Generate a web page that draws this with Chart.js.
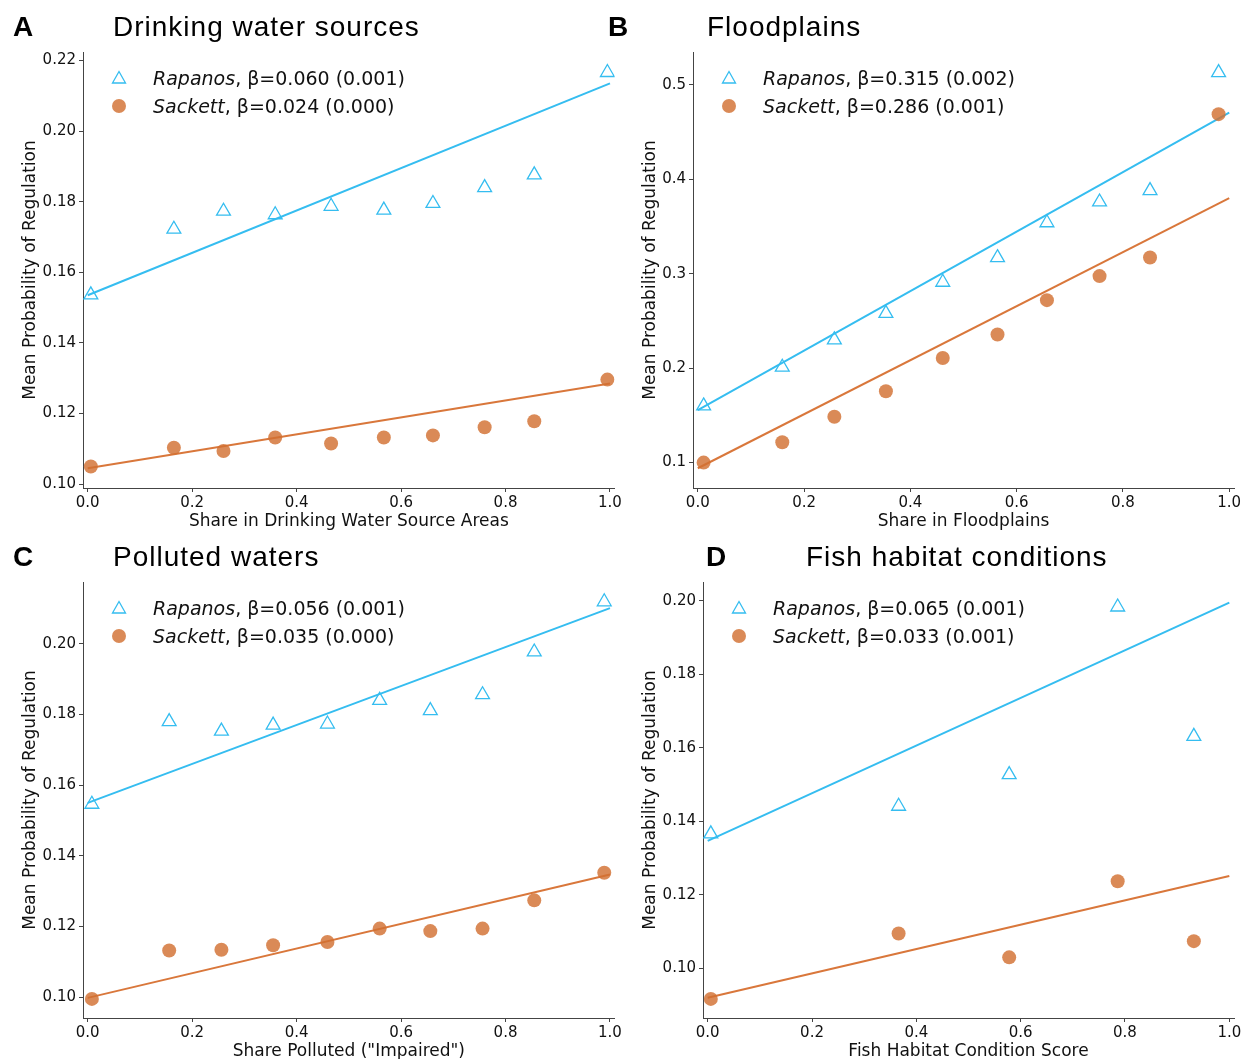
<!DOCTYPE html>
<html>
<head>
<meta charset="utf-8">
<script src="https://cdn.jsdelivr.net/npm/chart.js@4.4.1/dist/chart.umd.min.js"></script>
<style>
  html, body { margin: 0; padding: 0; background: #fff; width: 1248px; height: 1059px; overflow: hidden; }
  canvas { position: absolute; }
  .letter { position: absolute; font: bold 28px "Liberation Sans", Arial, sans-serif; line-height: 28px; color: #000; }
  .title { position: absolute; font: 28px "Liberation Sans", Arial, sans-serif; line-height: 28px; letter-spacing: 1px; white-space: nowrap; color: #000; }
  .lrow { position: absolute; height: 28px; font: 19px "DejaVu Sans", sans-serif; line-height: 28px; white-space: nowrap; color: #111; }
  .lrow svg { position: absolute; left: 0; top: 6px; }
  .lrow span.txt { position: absolute; left: 42px; top: 0; }
</style>
</head>
<body>
<script>
// shared x ticks
const xTicks = [0.0, 0.2, 0.4, 0.6, 0.8, 1.0];
const fitX = [0, 1];

// A: drinking water sources
const drinkX = [0.006, 0.165, 0.260, 0.359, 0.466, 0.567, 0.661, 0.760, 0.855, 0.995];
const drinkRapanos = [0.1536, 0.1722, 0.1773, 0.1763, 0.1787, 0.1776, 0.1795, 0.1840, 0.1876, 0.2166];
const drinkSackett = [0.1050, 0.1103, 0.1094, 0.1132, 0.1115, 0.1132, 0.1138, 0.1161, 0.1178, 0.1296];
const drinkFitRapanos = [0.1535, 0.2135];
const drinkFitSackett = [0.1045, 0.1285];
const drinkYTicks = [0.10, 0.12, 0.14, 0.16, 0.18, 0.20, 0.22];

// B: floodplains
const floodX = [0.011, 0.159, 0.257, 0.354, 0.461, 0.564, 0.657, 0.756, 0.851, 0.980];
const floodRapanos = [0.160, 0.201, 0.230, 0.258, 0.291, 0.317, 0.354, 0.376, 0.388, 0.513];
const floodSackett = [0.100, 0.1215, 0.1486, 0.1755, 0.2108, 0.2357, 0.2720, 0.2975, 0.3172, 0.469];
const floodFitRapanos = [0.1555, 0.4705];
const floodFitSackett = [0.094, 0.380];
const floodYTicks = [0.1, 0.2, 0.3, 0.4, 0.5];

// C: polluted waters
const pollX = [0.008, 0.156, 0.256, 0.355, 0.459, 0.559, 0.656, 0.756, 0.855, 0.989];
const pollRapanos = [0.1546, 0.1780, 0.1753, 0.1770, 0.1773, 0.1840, 0.1811, 0.1856, 0.1977, 0.2119];
const pollSackett = [0.0995, 0.1132, 0.1134, 0.1147, 0.1156, 0.1194, 0.1187, 0.1194, 0.1274, 0.1352];
const pollFitRapanos = [0.1550, 0.2101];
const pollFitSackett = [0.0998, 0.1347];
const pollYTicks = [0.10, 0.12, 0.14, 0.16, 0.18, 0.20];

// D: fish habitat conditions
const fishX = [0.006, 0.366, 0.578, 0.786, 0.932];
const fishRapanos = [0.1366, 0.1441, 0.1527, 0.1983, 0.1631];
const fishSackett = [0.0917, 0.1095, 0.1030, 0.1237, 0.1074];
const fishFitRapanos = [0.1347, 0.1995];
const fishFitSackett = [0.0920, 0.1251];
const fishYTicks = [0.10, 0.12, 0.14, 0.16, 0.18, 0.20];

const BLUE = '#35bdf0';
const ORANGE_LINE = '#d9773b';
const ORANGE_FILL = 'rgba(210, 112, 50, 0.82)';
const AXIS = '#444';
const TEXT = '#111';
const FONT = 'DejaVu Sans';

const panels = [
  { letter: 'A', title: 'Drinking water sources', xLabel: 'Share in Drinking Water Source Areas',
    x: drinkX, rapanos: drinkRapanos, sackett: drinkSackett, fitR: drinkFitRapanos, fitS: drinkFitSackett,
    yTicks: drinkYTicks, yMin: 0.0989, yMax: 0.2224, digits: 2,
    betaR: 'β=0.060 (0.001)', betaS: 'β=0.024 (0.000)' },
  { letter: 'B', title: 'Floodplains', xLabel: 'Share in Floodplains',
    x: floodX, rapanos: floodRapanos, sackett: floodSackett, fitR: floodFitRapanos, fitS: floodFitSackett,
    yTicks: floodYTicks, yMin: 0.0731, yMax: 0.5348, digits: 1,
    betaR: 'β=0.315 (0.002)', betaS: 'β=0.286 (0.001)' },
  { letter: 'C', title: 'Polluted waters', xLabel: 'Share Polluted ("Impaired")',
    x: pollX, rapanos: pollRapanos, sackett: pollSackett, fitR: pollFitRapanos, fitS: pollFitSackett,
    yTicks: pollYTicks, yMin: 0.0941, yMax: 0.2175, digits: 2,
    betaR: 'β=0.056 (0.001)', betaS: 'β=0.035 (0.000)' },
  { letter: 'D', title: 'Fish habitat conditions', xLabel: 'Fish Habitat Condition Score',
    x: fishX, rapanos: fishRapanos, sackett: fishSackett, fitR: fishFitRapanos, fitS: fishFitSackett,
    yTicks: fishYTicks, yMin: 0.0865, yMax: 0.2051, digits: 2,
    betaR: 'β=0.065 (0.001)', betaS: 'β=0.033 (0.001)' }
];

// where each panel sits on the page
const layouts = [
  { left: 0,   top: 40,  axisW: 83, padRight: 9,  letterX: 13,  titleX: 113, titleTop: 13,  yTitlePad: 20 },
  { left: 624, top: 40,  axisW: 69, padRight: 14, letterX: 608, titleX: 707, titleTop: 13,  yTitlePad: 16 },
  { left: 0,   top: 570, axisW: 83, padRight: 9,  letterX: 13,  titleX: 113, titleTop: 543, yTitlePad: 20 },
  { left: 624, top: 570, axisW: 79, padRight: 14, letterX: 706, titleX: 806, titleTop: 543, yTitlePad: 16 }
];
const CANVAS_W = 624, CANVAS_H = 490, PAD_TOP = 12, X_AXIS_H = 42;

function addDiv(cls, left, top, html) {
  const d = document.createElement('div');
  d.className = cls;
  d.style.left = left + 'px';
  d.style.top = top + 'px';
  d.innerHTML = html;
  document.body.appendChild(d);
  return d;
}

const triSvg = '<svg width="16" height="16" viewBox="0 0 16 16"><polygon points="8,1.5 14.5,13 1.5,13" fill="none" stroke="' + BLUE + '" stroke-width="1.3"/></svg>';
const dotSvg = '<svg width="16" height="16" viewBox="0 0 16 16"><circle cx="8" cy="8" r="7" fill="' + ORANGE_FILL + '"/></svg>';

panels.forEach((p, i) => {
  const g = layouts[i];
  addDiv('letter', g.letterX, g.titleTop, p.letter);
  addDiv('title', g.titleX, g.titleTop, p.title);

  const spineX = g.left + g.axisW;
  const spineTop = g.top + PAD_TOP;
  addDiv('lrow', spineX + 28, spineTop + 12, triSvg + '<span class="txt"><i>Rapanos</i>, ' + p.betaR + '</span>');
  addDiv('lrow', spineX + 28, spineTop + 40, dotSvg + '<span class="txt"><i>Sackett</i>, ' + p.betaS + '</span>');

  const canvas = document.createElement('canvas');
  canvas.width = CANVAS_W;
  canvas.height = CANVAS_H;
  canvas.style.left = g.left + 'px';
  canvas.style.top = g.top + 'px';
  document.body.insertBefore(canvas, document.body.firstChild);

  const pts = ys => p.x.map((v, k) => ({ x: v, y: ys[k] }));
  const fit = ys => fitX.map((v, k) => ({ x: v, y: ys[k] }));

  new Chart(canvas, {
    type: 'scatter',
    data: {
      datasets: [
        { label: 'Rapanos', data: pts(p.rapanos), pointStyle: 'triangle', pointRadius: 8,
          borderColor: BLUE, backgroundColor: 'rgba(0,0,0,0)', borderWidth: 1.3, order: 1 },
        { label: 'Sackett', data: pts(p.sackett), pointStyle: 'circle', pointRadius: 7,
          borderWidth: 0, backgroundColor: ORANGE_FILL, borderColor: ORANGE_FILL, order: 1 },
        { type: 'line', label: 'Rapanos fit', data: fit(p.fitR), borderColor: BLUE, borderWidth: 2,
          pointRadius: 0, fill: false, order: 3 },
        { type: 'line', label: 'Sackett fit', data: fit(p.fitS), borderColor: ORANGE_LINE, borderWidth: 2,
          pointRadius: 0, fill: false, order: 3 }
      ]
    },
    options: {
      responsive: false,
      animation: false,
      layout: { padding: { top: PAD_TOP, right: g.padRight, left: 0, bottom: 0 } },
      plugins: { legend: { display: false }, tooltip: { enabled: false } },
      scales: {
        x: {
          type: 'linear', min: -0.009, max: 1.009,
          afterFit: s => { s.height = X_AXIS_H; },
          afterBuildTicks: s => { s.ticks = xTicks.map(v => ({ value: v })); },
          ticks: { callback: v => v.toFixed(1), font: { family: FONT, size: 15 }, color: TEXT,
                   padding: 2, maxRotation: 0, autoSkip: false },
          grid: { drawOnChartArea: false, drawTicks: true, tickLength: 4, color: AXIS },
          border: { color: AXIS, width: 1 },
          title: { display: true, text: p.xLabel, color: TEXT, font: { family: FONT, size: 17 },
                   padding: { top: 0, bottom: -2 } }
        },
        y: {
          type: 'linear', min: p.yMin, max: p.yMax,
          afterFit: s => { s.width = g.axisW; },
          afterBuildTicks: s => { s.ticks = p.yTicks.map(v => ({ value: v })); },
          ticks: { callback: v => v.toFixed(p.digits), font: { family: FONT, size: 15 }, color: TEXT,
                   padding: 3, autoSkip: false },
          grid: { drawOnChartArea: false, drawTicks: true, tickLength: 4, color: AXIS },
          border: { color: AXIS, width: 1 },
          title: { display: true, text: 'Mean Probability of Regulation', color: TEXT,
                   font: { family: FONT, size: 17 }, padding: { top: g.yTitlePad, bottom: 0 } }
        }
      }
    }
  });
});
</script>
</body>
</html>
